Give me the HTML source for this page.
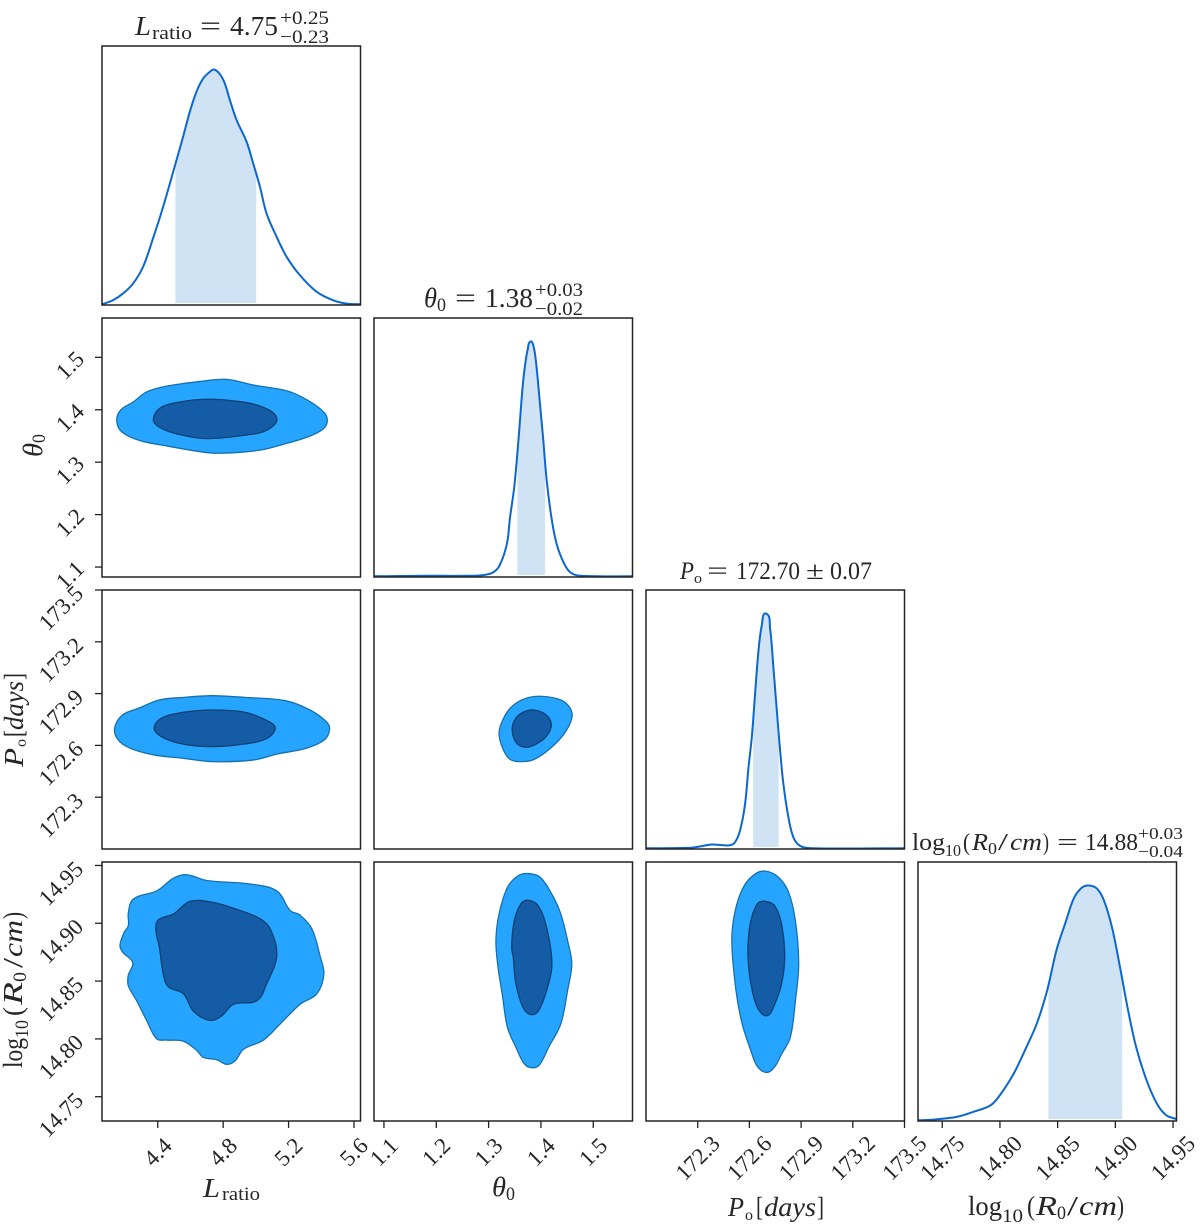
<!DOCTYPE html>
<html lang="en">
<head>
<meta charset="utf-8">
<title>Corner plot</title>
<style>
html,body{margin:0;padding:0;background:#fff;}
svg{display:block;}
text{font-family:"Liberation Serif","DejaVu Serif",serif;fill:#262626;}
.i{font-style:italic;}
</style>
</head>
<body>
<svg id="chart" xmlns="http://www.w3.org/2000/svg" width="1200" height="1230" viewBox="0 0 1200 1230">
<rect x="0" y="0" width="1200" height="1230" fill="#fff"/>
<g id="marks"></g>

<g>
<text class="i" x="135" y="35" font-size="27" textLength="16" lengthAdjust="spacingAndGlyphs">L</text>
<text x="152" y="39" font-size="19" textLength="40" lengthAdjust="spacingAndGlyphs">ratio</text>
<text x="200" y="35" font-size="27" textLength="21" lengthAdjust="spacingAndGlyphs">=</text>
<text x="230" y="35" font-size="27" textLength="48" lengthAdjust="spacingAndGlyphs">4.75</text>
<text x="280" y="24" font-size="19" textLength="49" lengthAdjust="spacingAndGlyphs">+0.25</text>
<text x="280" y="43" font-size="19" textLength="49" lengthAdjust="spacingAndGlyphs">−0.23</text>
</g>
<g>
<text class="i" x="424" y="307" font-size="27" textLength="13" lengthAdjust="spacingAndGlyphs">θ</text>
<text x="437" y="311" font-size="19" textLength="9" lengthAdjust="spacingAndGlyphs">0</text>
<text x="455" y="307" font-size="27" textLength="21" lengthAdjust="spacingAndGlyphs">=</text>
<text x="485" y="307" font-size="27" textLength="48" lengthAdjust="spacingAndGlyphs">1.38</text>
<text x="535" y="296" font-size="19" textLength="48" lengthAdjust="spacingAndGlyphs">+0.03</text>
<text x="535" y="315" font-size="19" textLength="48" lengthAdjust="spacingAndGlyphs">−0.02</text>
</g>
<g>
<text class="i" x="680" y="579" font-size="25" textLength="14" lengthAdjust="spacingAndGlyphs">P</text>
<text x="694" y="583" font-size="15" textLength="8" lengthAdjust="spacingAndGlyphs">o</text>
<text x="707" y="579" font-size="25" textLength="21" lengthAdjust="spacingAndGlyphs">=</text>
<text x="736" y="579" font-size="25" textLength="64" lengthAdjust="spacingAndGlyphs">172.70</text>
<text x="806" y="579" font-size="25" textLength="18" lengthAdjust="spacingAndGlyphs">±</text>
<text x="830" y="579" font-size="25" textLength="42" lengthAdjust="spacingAndGlyphs">0.07</text>
</g>
<g>
<text x="912" y="850" font-size="24" textLength="33" lengthAdjust="spacingAndGlyphs">log</text>
<text x="945" y="856" font-size="17" textLength="16" lengthAdjust="spacingAndGlyphs">10</text>
<text x="963" y="850" font-size="24" textLength="7" lengthAdjust="spacingAndGlyphs">(</text>
<text class="i" x="972" y="850" font-size="24" textLength="16" lengthAdjust="spacingAndGlyphs">R</text>
<text x="988" y="854" font-size="17" textLength="9" lengthAdjust="spacingAndGlyphs">0</text>
<text x="998" y="850" font-size="24" textLength="10" lengthAdjust="spacingAndGlyphs">/</text>
<text class="i" x="1010" y="850" font-size="24" textLength="32" lengthAdjust="spacingAndGlyphs">cm</text>
<text x="1043" y="850" font-size="24" textLength="6" lengthAdjust="spacingAndGlyphs">)</text>
<text x="1057" y="850" font-size="24" textLength="21" lengthAdjust="spacingAndGlyphs">=</text>
<text x="1085" y="850" font-size="24" textLength="53" lengthAdjust="spacingAndGlyphs">14.88</text>
<text x="1138" y="839" font-size="17" textLength="45" lengthAdjust="spacingAndGlyphs">+0.03</text>
<text x="1138" y="857" font-size="17" textLength="45" lengthAdjust="spacingAndGlyphs">−0.04</text>
</g>

<g>
<text class="i" x="203" y="1197" font-size="27" textLength="17" lengthAdjust="spacingAndGlyphs">L</text>
<text x="222" y="1200" font-size="19" textLength="38" lengthAdjust="spacingAndGlyphs">ratio</text>
</g>
<g>
<text class="i" x="492" y="1196" font-size="27" textLength="14" lengthAdjust="spacingAndGlyphs">θ</text>
<text x="506" y="1200" font-size="19" textLength="9" lengthAdjust="spacingAndGlyphs">0</text>
</g>
<g>
<text class="i" x="728" y="1216" font-size="27" textLength="16" lengthAdjust="spacingAndGlyphs">P</text>
<text x="745" y="1220" font-size="16" textLength="8" lengthAdjust="spacingAndGlyphs">o</text>
<text x="756" y="1216" font-size="27" textLength="7" lengthAdjust="spacingAndGlyphs">[</text>
<text class="i" x="764" y="1216" font-size="27" textLength="52" lengthAdjust="spacingAndGlyphs">days</text>
<text x="817" y="1216" font-size="27" textLength="7" lengthAdjust="spacingAndGlyphs">]</text>
</g>
<g>
<text x="968" y="1215" font-size="27" textLength="34" lengthAdjust="spacingAndGlyphs">log</text>
<text x="1002" y="1222" font-size="19" textLength="21" lengthAdjust="spacingAndGlyphs">10</text>
<text x="1027" y="1215" font-size="27" textLength="8" lengthAdjust="spacingAndGlyphs">(</text>
<text class="i" x="1036" y="1215" font-size="27" textLength="21" lengthAdjust="spacingAndGlyphs">R</text>
<text x="1057" y="1219" font-size="19" textLength="9" lengthAdjust="spacingAndGlyphs">0</text>
<text x="1067" y="1215" font-size="27" textLength="11" lengthAdjust="spacingAndGlyphs">/</text>
<text class="i" x="1079" y="1215" font-size="27" textLength="38" lengthAdjust="spacingAndGlyphs">cm</text>
<text x="1117" y="1215" font-size="27" textLength="7" lengthAdjust="spacingAndGlyphs">)</text>
</g>

<g transform="translate(42,457) rotate(-90)">
<text class="i" x="0" y="0" font-size="27" textLength="14" lengthAdjust="spacingAndGlyphs">θ</text>
<text x="14" y="3" font-size="19" textLength="9" lengthAdjust="spacingAndGlyphs">0</text>
</g>
<g transform="translate(23,767) rotate(-90)">
<text class="i" x="0" y="0" font-size="27" textLength="19" lengthAdjust="spacingAndGlyphs">P</text>
<text x="20" y="3" font-size="16" textLength="8" lengthAdjust="spacingAndGlyphs">o</text>
<text x="30" y="0" font-size="27" textLength="7" lengthAdjust="spacingAndGlyphs">[</text>
<text class="i" x="37" y="0" font-size="27" textLength="49" lengthAdjust="spacingAndGlyphs">days</text>
<text x="87" y="0" font-size="27" textLength="7" lengthAdjust="spacingAndGlyphs">]</text>
</g>
<g transform="translate(22,1068) rotate(-90)">
<text x="0" y="0" font-size="27" textLength="30" lengthAdjust="spacingAndGlyphs">log</text>
<text x="30" y="6" font-size="19" textLength="18" lengthAdjust="spacingAndGlyphs">10</text>
<text x="52" y="0" font-size="27" textLength="9" lengthAdjust="spacingAndGlyphs">(</text>
<text class="i" x="63" y="0" font-size="27" textLength="23" lengthAdjust="spacingAndGlyphs">R</text>
<text x="86" y="4" font-size="19" textLength="10" lengthAdjust="spacingAndGlyphs">0</text>
<text x="100" y="0" font-size="27" textLength="10" lengthAdjust="spacingAndGlyphs">/</text>
<text class="i" x="111" y="0" font-size="27" textLength="37" lengthAdjust="spacingAndGlyphs">cm</text>
<text x="149" y="0" font-size="27" textLength="7" lengthAdjust="spacingAndGlyphs">)</text>
</g>
</svg>

<script>
// ---------- tick values ----------
const lRatioTicks = [4.4, 4.8, 5.2, 5.6];
const thetaTicks = [1.1, 1.2, 1.3, 1.4, 1.5];
const periodTicks = [172.3, 172.6, 172.9, 173.2, 173.5];
const radiusTicks = [14.75, 14.80, 14.85, 14.90, 14.95];

// ---------- axis limits ----------
const lRatioLimits = [4.059, 5.64];
const thetaLimits = [1.081, 1.575];
const periodLimits = [172.0, 173.5];
const radiusLimits = [14.729, 14.953];

// ---------- 1D marginal densities (peak normalised to 1) ----------
const lRatioGrid = [4.059,4.126,4.188,4.249,4.310,4.371,4.433,4.506,4.555,4.596,4.637,4.678,4.718,4.745,4.780,4.810,4.841,4.882,4.943,4.984,5.025,5.065,5.127,5.188,5.269,5.372,5.473,5.555,5.641];
const lRatioDensity = [0.001,0.018,0.047,0.089,0.160,0.281,0.416,0.593,0.714,0.820,0.906,0.962,0.990,1.0,0.980,0.941,0.870,0.785,0.693,0.600,0.501,0.388,0.288,0.203,0.125,0.054,0.018,0.004,0.001];
const lRatioInterval = [4.508, 5.002];

const thetaGrid = [1.081,1.182,1.211,1.258,1.290,1.309,1.321,1.335,1.341,1.349,1.357,1.365,1.370,1.375,1.380,1.386,1.391,1.397,1.404,1.411,1.421,1.430,1.443,1.456,1.475,1.575];
const thetaDensity = [0.001,0.003,0.003,0.003,0.006,0.018,0.047,0.139,0.252,0.380,0.579,0.806,0.905,0.969,1.0,0.979,0.905,0.763,0.593,0.409,0.238,0.139,0.061,0.018,0.003,0.001];
const thetaInterval = [1.355, 1.408];

const periodGrid = [172.000,172.257,172.315,172.382,172.450,172.488,172.517,172.546,172.575,172.595,172.614,172.633,172.653,172.672,172.697,172.720,172.739,172.759,172.778,172.797,172.826,172.855,172.894,172.961,173.5];
const periodDensity = [0.001,0.003,0.009,0.017,0.014,0.014,0.027,0.077,0.190,0.347,0.474,0.659,0.844,0.950,1.0,0.936,0.773,0.588,0.418,0.276,0.134,0.048,0.011,0.001,0.001];
const periodInterval = [172.622, 172.770];

const radiusGrid = [14.729,14.743,14.763,14.777,14.792,14.800,14.812,14.823,14.832,14.841,14.849,14.857,14.864,14.871,14.877,14.884,14.890,14.897,14.904,14.911,14.918,14.927,14.936,14.944,14.953];
const radiusDensity = [0.001,0.004,0.016,0.037,0.065,0.108,0.200,0.313,0.413,0.555,0.725,0.845,0.945,0.991,1.0,0.987,0.938,0.824,0.654,0.470,0.313,0.172,0.072,0.023,0.006];
const radiusInterval = [14.842, 14.906];

// ---------- 2D credible contours ----------
const thetaVsLOuterX = [4.149,4.175,4.251,4.332,4.455,4.659,4.822,4.986,5.190,5.312,5.414,5.437,5.414,5.332,5.190,5.026,4.781,4.659,4.455,4.292,4.179];
const thetaVsLOuterY = [1.380,1.400,1.415,1.434,1.445,1.454,1.458,1.447,1.436,1.419,1.396,1.380,1.364,1.350,1.336,1.323,1.317,1.320,1.331,1.341,1.358];
const thetaVsLInnerX = [4.373,4.414,4.537,4.700,4.863,5.026,5.128,5.067,4.945,4.700,4.516,4.404];
const thetaVsLInnerY = [1.382,1.403,1.415,1.420,1.417,1.407,1.384,1.361,1.352,1.345,1.354,1.368];

const periodVsLOuterX = [4.136,4.184,4.283,4.408,4.558,4.732,4.932,5.181,5.331,5.431,5.451,5.418,5.306,5.131,4.982,4.732,4.558,4.383,4.234,4.159];
const periodVsLOuterY = [172.699,172.776,172.815,172.863,172.878,172.888,172.878,172.859,172.805,172.737,172.693,172.631,172.583,172.550,172.515,172.506,172.525,172.544,172.583,172.631];
const periodVsLInnerX = [4.378,4.421,4.558,4.732,4.932,5.082,5.119,5.069,4.932,4.707,4.533,4.421];
const periodVsLInnerY = [172.699,172.757,172.792,172.805,172.792,172.737,172.699,172.641,172.608,172.593,172.612,172.651];

const periodVsThetaOuterX = [1.320,1.327,1.344,1.372,1.403,1.438,1.456,1.459,1.445,1.418,1.387,1.364,1.341,1.327];
const periodVsThetaOuterY = [172.670,172.747,172.824,172.873,172.884,172.863,172.815,172.757,172.670,172.583,172.519,172.506,172.519,172.583];
const periodVsThetaInnerX = [1.345,1.352,1.368,1.387,1.410,1.420,1.410,1.391,1.372,1.354];
const periodVsThetaInnerY = [172.689,172.757,172.795,172.805,172.776,172.718,172.651,172.608,172.589,172.612];

const radiusVsLOuterX = [4.169,4.186,4.247,4.220,4.220,4.271,4.332,4.394,4.455,4.557,4.639,4.679,4.761,4.822,4.873,4.924,5.047,5.149,5.271,5.373,5.416,5.394,5.343,5.271,5.210,5.128,4.965,4.700,4.577,4.496,4.394,4.251,4.220,4.220,4.194];
const radiusVsLOuterY = [14.881,14.875,14.866,14.855,14.846,14.833,14.816,14.800,14.799,14.798,14.790,14.784,14.782,14.778,14.781,14.791,14.799,14.813,14.830,14.839,14.856,14.871,14.895,14.907,14.911,14.928,14.934,14.937,14.942,14.939,14.928,14.921,14.909,14.898,14.892];
const radiusVsLInnerX = [4.388,4.410,4.435,4.465,4.557,4.618,4.720,4.792,4.863,5.006,5.067,5.128,5.092,5.026,4.863,4.741,4.598,4.496,4.404];
const radiusVsLInnerY = [14.895,14.879,14.855,14.845,14.839,14.824,14.816,14.820,14.830,14.833,14.848,14.872,14.894,14.904,14.913,14.918,14.919,14.908,14.903];

const radiusVsThetaOuterX = [1.314,1.320,1.336,1.356,1.375,1.398,1.421,1.438,1.451,1.459,1.451,1.438,1.415,1.398,1.385,1.369,1.352,1.336,1.326,1.318];
const radiusVsThetaOuterY = [14.885,14.908,14.931,14.941,14.943,14.940,14.925,14.908,14.885,14.865,14.842,14.813,14.793,14.778,14.775,14.778,14.793,14.810,14.839,14.862];
const radiusVsThetaInnerX = [1.344,1.349,1.362,1.375,1.395,1.411,1.421,1.411,1.395,1.381,1.366,1.352,1.347];
const radiusVsThetaInnerY = [14.879,14.902,14.917,14.920,14.915,14.896,14.865,14.842,14.824,14.821,14.827,14.848,14.871];

const radiusVsPeriodOuterX = [172.498,172.518,172.568,172.637,172.697,172.767,172.827,172.867,172.886,172.867,172.837,172.787,172.747,172.701,172.647,172.608,172.558,172.522];
const radiusVsPeriodOuterY = [14.885,14.911,14.932,14.943,14.945,14.940,14.927,14.902,14.865,14.833,14.801,14.787,14.776,14.771,14.776,14.790,14.813,14.842];
const radiusVsPeriodInnerX = [172.592,172.608,172.647,172.691,172.747,172.787,172.805,172.787,172.747,172.701,172.647,172.612,172.594];
const radiusVsPeriodInnerY = [14.882,14.902,14.917,14.919,14.915,14.899,14.871,14.848,14.830,14.820,14.827,14.845,14.865];

// ---------- layout ----------
const NS = 'http://www.w3.org/2000/svg';
const root = document.getElementById('marks');
const colLeft = [102, 374, 646, 918];
const rowTop = [46, 318, 590, 862];
const panelW = 258.5;
const panelH = 259;
const limits = [lRatioLimits, thetaLimits, periodLimits, radiusLimits];

function xAxis(col, v) {
  const l = limits[col];
  return colLeft[col] + (v - l[0]) / (l[1] - l[0]) * panelW;
}
function yAxis(row, v) {
  const l = limits[row];
  return rowTop[row] + panelH - (v - l[0]) / (l[1] - l[0]) * panelH;
}
function densityAxis(row, d) {
  return rowTop[row] + panelH - 0.5 - d * (panelH - 0.5) / 1.1;
}
function node(tag, attrs, parent) {
  const el = document.createElementNS(NS, tag);
  for (const k in attrs) el.setAttribute(k, attrs[k]);
  parent.appendChild(el);
  return el;
}
function f(n) { return n.toFixed(2); }

// Smooth path whose handle length follows each segment's length, so uneven spacing stays kink-free.
function unitTangent(a, c) {
  const dx = c[0] - a[0], dy = c[1] - a[1];
  const len = Math.hypot(dx, dy) || 1;
  return [dx / len, dy / len];
}
function segment(a, b, c, e) {
  const t1 = unitTangent(a, c), t2 = unitTangent(b, e);
  const h = Math.hypot(c[0] - b[0], c[1] - b[1]) / 3;
  return 'C' + f(b[0] + t1[0] * h) + ' ' + f(b[1] + t1[1] * h) + ' ' +
    f(c[0] - t2[0] * h) + ' ' + f(c[1] - t2[1] * h) + ' ' + f(c[0]) + ' ' + f(c[1]);
}
function smoothOpen(p) {
  let d = 'M' + f(p[0][0]) + ' ' + f(p[0][1]);
  for (let i = 0; i < p.length - 1; i++) {
    d += segment(p[Math.max(i - 1, 0)], p[i], p[i + 1], p[Math.min(i + 2, p.length - 1)]);
  }
  return d;
}
function smoothClosed(p) {
  const n = p.length;
  let d = 'M' + f(p[0][0]) + ' ' + f(p[0][1]);
  for (let i = 0; i < n; i++) {
    d += segment(p[(i - 1 + n) % n], p[i], p[(i + 1) % n], p[(i + 2) % n]);
  }
  return d + 'Z';
}

function drawFrame(col, row, name) {
  const el = node('rect', {x: colLeft[col], y: rowTop[row], width: panelW, height: panelH, fill: 'none', stroke: '#222', 'stroke-width': 1.5}, root);
  
  
}

function drawMarginal(i, grid, density, interval, name) {
  const pts = grid.map((v, k) => [xAxis(i, v), densityAxis(i, density[k])]);
  const curve = smoothOpen(pts);
  const base = rowTop[i] + panelH - 1;
  const clipId = 'clip-' + name;
  const defs = node('clipPath', {id: clipId}, root);
  node('path', {d: curve + 'L' + f(pts[pts.length - 1][0]) + ' ' + base + 'L' + f(pts[0][0]) + ' ' + base + 'Z'}, defs);
  const x0 = xAxis(i, interval[0]);
  const x1 = xAxis(i, interval[1]);
  const band = node('rect', {x: f(x0), y: rowTop[i], width: f(x1 - x0), height: panelH - 2, fill: '#d0e3f5', 'clip-path': 'url(#' + clipId + ')'}, root);
  
  
  const line = node('path', {d: curve, fill: 'none', stroke: '#0b67cf', 'stroke-width': 2, 'stroke-linejoin': 'round'}, root);
  
  
}

function drawContour(col, row, ox, oy, ix, iy, name) {
  const toPts = (xs, ys) => xs.map((v, k) => [xAxis(col, v), yAxis(row, ys[k])]);
  const outer = node('path', {d: smoothClosed(toPts(ox, oy)), fill: '#25a5ff', stroke: '#1570ae', 'stroke-width': 1.3}, root);
  
  
  const inner = node('path', {d: smoothClosed(toPts(ix, iy)), fill: '#145ca5', stroke: '#103f72', 'stroke-width': 1.3}, root);
  
  
}

function drawXTicks(col, ticks, digits, labelY, name) {
  const bottom = rowTop[3] + panelH;
  ticks.forEach(function (v) {
    const x = xAxis(col, v);
    const tick = node('line', {x1: f(x), x2: f(x), y1: bottom, y2: bottom + 7, stroke: '#222', 'stroke-width': 1.3}, root);
    
    
    const label = node('text', {x: f(x), y: labelY, 'font-size': 23, 'text-anchor': 'middle', 'dominant-baseline': 'central', transform: 'rotate(-45 ' + f(x) + ' ' + labelY + ')'}, root);
    label.textContent = v.toFixed(digits);
    
    
  });
}

function drawYTicks(row, ticks, digits, labelX, labelDy, name) {
  const left = colLeft[0];
  ticks.forEach(function (v) {
    const y = yAxis(row, v);
    const tick = node('line', {x1: left - 7, x2: left, y1: f(y), y2: f(y), stroke: '#222', 'stroke-width': 1.3}, root);
    
    
    const ly = y + labelDy;
    const label = node('text', {x: labelX, y: f(ly), 'font-size': 23, 'text-anchor': 'middle', 'dominant-baseline': 'central', transform: 'rotate(-45 ' + labelX + ' ' + f(ly) + ')'}, root);
    label.textContent = v.toFixed(digits);
    
    
  });
}

// ---------- draw ----------
drawMarginal(0, lRatioGrid, lRatioDensity, lRatioInterval, 'l-ratio');
drawMarginal(1, thetaGrid, thetaDensity, thetaInterval, 'theta');
drawMarginal(2, periodGrid, periodDensity, periodInterval, 'period');
drawMarginal(3, radiusGrid, radiusDensity, radiusInterval, 'log-radius');

drawContour(0, 1, thetaVsLOuterX, thetaVsLOuterY, thetaVsLInnerX, thetaVsLInnerY, 'theta-vs-l-ratio');
drawContour(0, 2, periodVsLOuterX, periodVsLOuterY, periodVsLInnerX, periodVsLInnerY, 'period-vs-l-ratio');
drawContour(1, 2, periodVsThetaOuterX, periodVsThetaOuterY, periodVsThetaInnerX, periodVsThetaInnerY, 'period-vs-theta');
drawContour(0, 3, radiusVsLOuterX, radiusVsLOuterY, radiusVsLInnerX, radiusVsLInnerY, 'log-radius-vs-l-ratio');
drawContour(1, 3, radiusVsThetaOuterX, radiusVsThetaOuterY, radiusVsThetaInnerX, radiusVsThetaInnerY, 'log-radius-vs-theta');
drawContour(2, 3, radiusVsPeriodOuterX, radiusVsPeriodOuterY, radiusVsPeriodInnerX, radiusVsPeriodInnerY, 'log-radius-vs-period');

const panelNames = ['l-ratio', 'theta', 'period', 'log-radius'];
for (let r = 0; r < 4; r++) {
  for (let c = 0; c <= r; c++) {
    drawFrame(c, r, 'panel-' + panelNames[r] + '-vs-' + panelNames[c]);
  }
}

drawXTicks(0, lRatioTicks, 1, 1152, 'l-ratio');
drawXTicks(1, thetaTicks, 1, 1152, 'theta');
drawXTicks(2, periodTicks, 1, 1158, 'period');
drawXTicks(3, radiusTicks, 2, 1158, 'log-radius');

drawYTicks(1, thetaTicks, 1, 70, 8, 'theta');
drawYTicks(2, periodTicks, 1, 61, 18, 'period');
drawYTicks(3, radiusTicks, 2, 61, 18, 'log-radius');
</script>
</body>
</html>
